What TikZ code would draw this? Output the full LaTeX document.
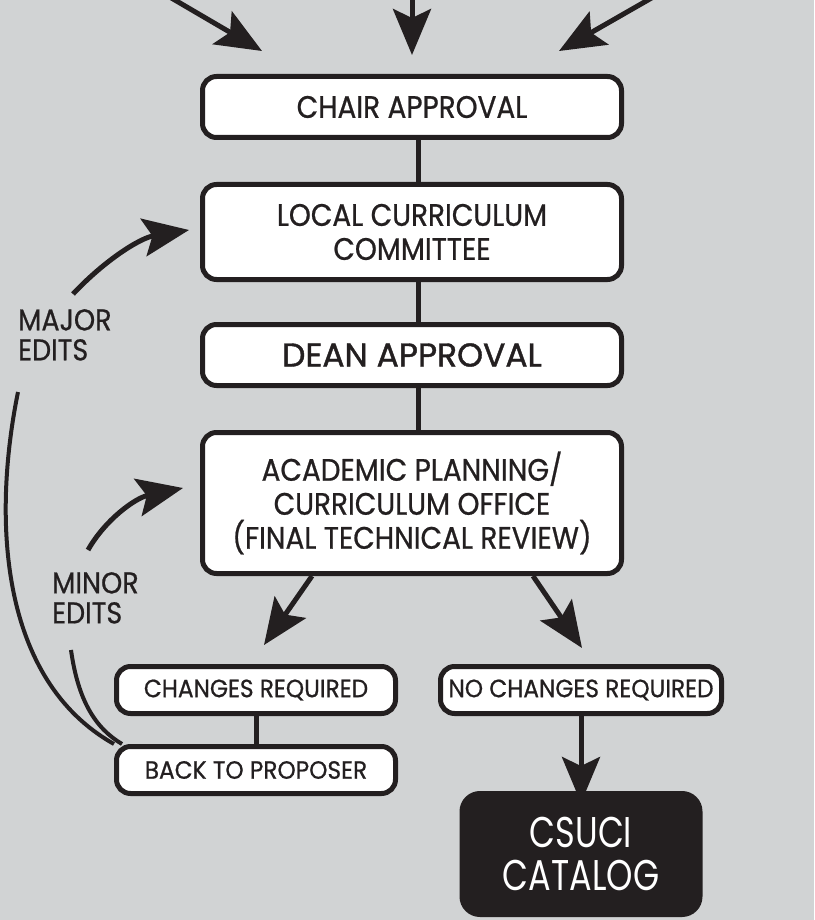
\documentclass[tikz,border=0pt]{standalone}
\usepackage{fontspec}
\setmainfont{Poppins}
\newfontfamily\fa{Poppins}[FakeStretch=0.9,FakeBold=0.7]
\newfontfamily\fb{Poppins}[FakeStretch=0.93,FakeBold=0.7]
\newfontfamily\fc{Poppins}[FakeStretch=0.78]
\newfontfamily\fd{Poppins}[FakeBold=1.2]
\usetikzlibrary{arrows.meta}
\definecolor{bg}{HTML}{D1D3D4}
\definecolor{ink}{HTML}{231F20}
\begin{document}
\begin{tikzpicture}[x=1pt,y=-1pt,
  box/.style={draw=ink, line width=5pt, fill=white, rounded corners=14pt, inner sep=0pt, align=center, text=ink},
  bigtxt/.style={font=\fa\fontsize{31}{34}\selectfont},
  smalltxt/.style={font=\fb\fontsize{25}{28}\selectfont},
  conn/.style={draw=ink, line width=5pt},
  arr/.style={draw=ink, line width=5pt, -{Stealth[length=46pt,width=38pt,inset=9pt]}},
  curvy/.style={draw=ink, line width=4pt},
  lbl/.style={text=ink, align=left, inner sep=0pt, anchor=north west, font=\fa\fontsize{30}{30}\selectfont},
]
\useasboundingbox (0,0) rectangle (814,920);
\fill[bg] (0,0) rectangle (814,920);

% boxes
\node[box, bigtxt, minimum width=419pt, minimum height=61pt] (chair) at (412,107) {CHAIR APPROVAL};
\node[box, bigtxt, minimum width=419pt, minimum height=95pt] (local) at (412,232) {LOCAL CURRICULUM\\COMMITTEE};
\node[box, font=\fd\fontsize{33}{34}\selectfont, minimum width=419pt, minimum height=61pt] (dean) at (412,355) {DEAN APPROVAL};
\node[box, bigtxt, minimum width=419pt, minimum height=141pt] (acad) at (412,503) {ACADEMIC PLANNING/\\CURRICULUM OFFICE\\(FINAL TECHNICAL REVIEW)};
\node[box, smalltxt, minimum width=279pt, minimum height=47pt] (chg) at (256,690) {CHANGES REQUIRED};
\node[box, smalltxt, minimum width=279pt, minimum height=47pt] (back) at (256,770) {BACK TO PROPOSER};
\node[box, smalltxt, minimum width=281pt, minimum height=47pt] (nochg) at (581,690) {NO CHANGES REQUIRED};
\node[box, fill=ink, text=white, rounded corners=18pt, font=\fc\fontsize{43}{43}\selectfont, minimum width=238pt, minimum height=121pt] (cat) at (581,854) {CSUCI\\CATALOG};

% labels
\node[lbl] (major) at (18,309) {MAJOR\\EDITS};
\node[lbl] (minor) at (52,572) {MINOR\\EDITS};

% vertical connectors
\draw[conn] ([xshift=6pt]chair.south) -- ([xshift=6pt]local.north);
\draw[conn] ([xshift=6pt]local.south) -- ([xshift=6pt]dean.north);
\draw[conn] ([xshift=6pt]dean.south) -- ([xshift=6pt]acad.north);
\draw[conn] (chg) -- (back);

% top incoming arrows
\coordinate (t1s) at (168,-4);
\coordinate (t1e) at (262,51);
\coordinate (t2s) at (412,-4);
\coordinate (t2e) at (412,55);
\coordinate (t3s) at (655,-4);
\coordinate (t3e) at (559,51);
\draw[arr] (t1s) -- (t1e);
\draw[arr] (t2s) -- (t2e);
\draw[arr] (t3s) -- (t3e);

% outgoing arrows from academic planning
\coordinate (a1e) at (264,645);
\coordinate (a2e) at (582,648);
\draw[arr] ([xshift=-100pt]acad.south) -- (a1e);
\draw[arr] ([xshift=121pt]acad.south) -- (a2e);
\draw[arr] (nochg.south) -- ([yshift=-12pt]cat.north);

% edit loops
\coordinate (mjs) at (73,294);
\coordinate (mje) at (189,230);
\draw[arr] (mjs) .. controls (105,260) and (140,238) .. (mje);
\coordinate (mns) at (88,550);
\coordinate (mne) at (183,488);
\draw[arr] (mns) .. controls (105,520) and (135,498) .. (mne);
\coordinate (lc) at (18,392);
\draw[curvy] (lc) .. controls (-8,520) and (0,680) .. (back.north west);
\coordinate (mc) at (71,650);
\draw[curvy] (mc) .. controls (78,700) and (95,728) .. ([xshift=8pt]back.north west);
\end{tikzpicture}
\end{document}
